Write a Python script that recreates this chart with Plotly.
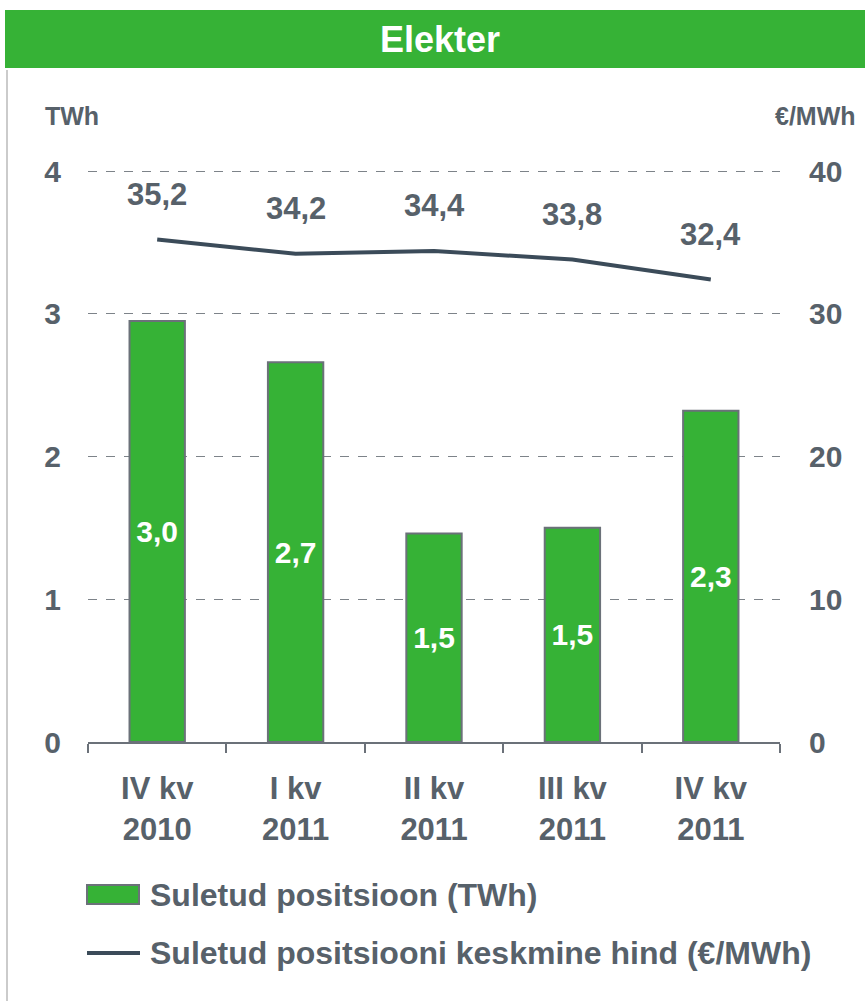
import plotly.graph_objects as go

categories = ["IV kv<br>2010", "I kv<br>2011", "II kv<br>2011", "III kv<br>2011", "IV kv<br>2011"]
position_twh = [2.95, 2.66, 1.46, 1.50, 2.32]
avg_price = [35.2, 34.2, 34.4, 33.8, 32.4]
left_ticks = [0, 1, 2, 3, 4]
right_ticks = [0, 10, 20, 30, 40]
title_text = "Elekter"
bar_name = "Suletud positsioon (TWh)"
line_name = "Suletud positsiooni keskmine hind (€/MWh)"

W, H = 865, 1001
L, R, T, B = 88, 85, 169, 259
PW, PH = W - L - R, H - T - B
TOP_PAD = 2 / 143.0  # headroom so the top gridline is drawn inside the plot

def px_x(x):
    return (x - L) / PW

def px_y(y):
    return (H - B - y) / PH

TXT = "#57616a"
GREEN = "#36b236"
LINE = "#3b4b59"
FONT = "Liberation Sans, Arial, sans-serif"

fig = go.Figure()
fig.add_trace(go.Bar(
    x=categories, y=position_twh, name=bar_name, width=0.4,
    marker=dict(color=GREEN, line=dict(color="#6b7179", width=2)),
    texttemplate="%{y:.1f}", textposition="inside", insidetextanchor="middle",
    textangle=0, constraintext="none",
    textfont=dict(family=FONT, size=30, color="white", weight="bold"),
    showlegend=False, yaxis="y",
))
fig.add_trace(go.Scatter(
    x=categories, y=avg_price, name=line_name, mode="lines",
    line=dict(color=LINE, width=4), showlegend=False, yaxis="y2",
))

for c, v in zip(categories, avg_price):
    fig.add_annotation(x=c, y=v, yref="y2", text=f"{v:.1f}".replace(".", ","),
                       showarrow=False, yshift=45,
                       font=dict(family=FONT, size=31, color=TXT, weight="bold"))

shapes = [
    dict(type="rect", xref="paper", yref="paper", x0=px_x(5), x1=px_x(W + 5),
         y0=px_y(68), y1=px_y(10), fillcolor=GREEN, line=dict(width=0), layer="below"),
    dict(type="line", xref="paper", yref="paper", x0=px_x(7), x1=px_x(7),
         y0=px_y(70), y1=px_y(H + 5), line=dict(color="#cbcbcb", width=2)),
    dict(type="rect", xref="paper", yref="paper", x0=px_x(87), x1=px_x(139),
         y0=px_y(904), y1=px_y(885), fillcolor=GREEN, line=dict(color="#6b7179", width=2)),
    dict(type="line", xref="paper", yref="paper", x0=px_x(87), x1=px_x(140),
         y0=px_y(953), y1=px_y(953), line=dict(color=LINE, width=4)),
]

annots = [
    dict(text=title_text, x=px_x(W / 2 + 8), y=px_y(40), size=36, color="white", xanchor="center"),
    dict(text="TWh", x=px_x(43), y=px_y(116), size=25, color=TXT, xanchor="left"),
    dict(text="€/MWh", x=px_x(858), y=px_y(116), size=25, color=TXT, xanchor="right"),
    dict(text=bar_name, x=px_x(148), y=px_y(895), size=32, color=TXT, xanchor="left"),
    dict(text=line_name, x=px_x(148), y=px_y(953), size=32, color=TXT, xanchor="left"),
]
for a in annots:
    fig.add_annotation(text=a["text"], xref="paper", yref="paper", x=a["x"], y=a["y"],
                       xanchor=a["xanchor"], yanchor="middle", showarrow=False,
                       font=dict(family=FONT, size=a["size"], color=a["color"], weight="bold"))

fig.update_layout(
    width=W, height=H, margin=dict(l=L, r=R, t=T, b=B),
    paper_bgcolor="white", plot_bgcolor="white",
    separators=", ", shapes=shapes, bargap=0.6,
    xaxis=dict(type="category", showline=True, linecolor="#6b7179", linewidth=2,
               ticks="outside", tickson="boundaries", ticklen=9, tickcolor="#6b7179",
               tickwidth=2, showgrid=False, ticklabelstandoff=18,
               tickfont=dict(family=FONT, size=31, color=TXT, weight="bold")),
    yaxis=dict(range=[0, 4 + TOP_PAD], tickvals=left_ticks, showline=False, zeroline=False,
               showgrid=True, gridcolor="#7d8389", griddash="dash", gridwidth=1,
               ticklabelstandoff=26, fixedrange=True,
               tickfont=dict(family=FONT, size=30, color=TXT, weight="bold")),
    yaxis2=dict(range=[0, 40 + 10 * TOP_PAD], tickvals=right_ticks, overlaying="y", side="right",
                showline=False, zeroline=False, showgrid=False, ticklabelstandoff=28,
                tickfont=dict(family=FONT, size=30, color=TXT, weight="bold")),
)

fig.write_html("out.html", config={"displayModeBar": False},
               post_script="document.body.style.margin='0';document.body.style.overflow='hidden';")
